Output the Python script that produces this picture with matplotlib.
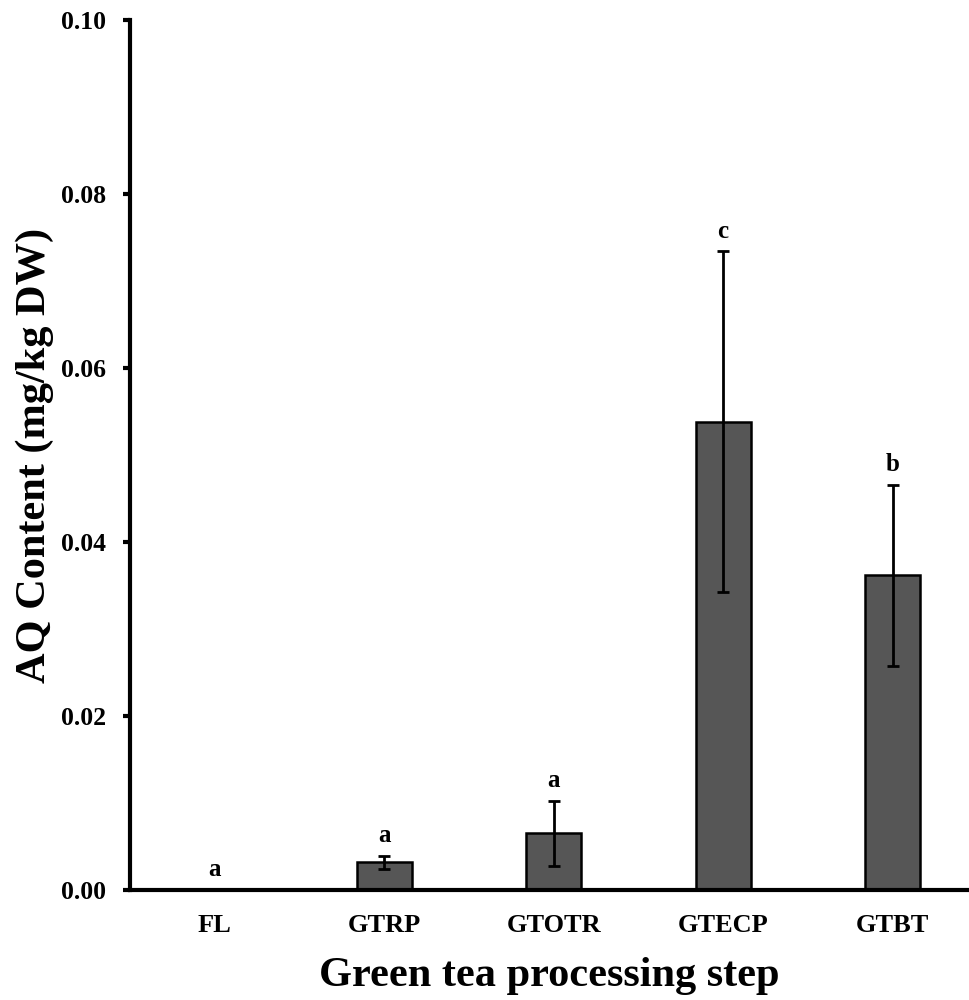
import numpy as np
import matplotlib
matplotlib.use('Agg')
import matplotlib.pyplot as plt

plt.rcParams.update({
    'font.family': 'serif',
    'font.serif': ['Liberation Serif', 'DejaVu Serif'],
    'font.weight': 'bold',
})

steps = ['FL', 'GTRP', 'GTOTR', 'GTECP', 'GTBT']
means = [0.0, 0.0032, 0.0065, 0.0538, 0.0362]
errors = [0.0, 0.00075, 0.0037, 0.0196, 0.0104]
letters = ['a', 'a', 'a', 'c', 'b']

fig = plt.figure(figsize=(9.69, 10), dpi=100)
ax = fig.add_axes([0.134, 0.11, 0.866, 0.87])

x = np.arange(len(steps))
ax.bar(x, means, width=0.325, color='#565656', edgecolor='black', linewidth=1.8,
       yerr=errors, error_kw=dict(ecolor='black', elinewidth=2, capsize=4.3, capthick=2),
       zorder=2)

# significance letters above the error bars
for xi, m, e, lab in zip(x, means, errors, letters):
    ax.text(xi, m + e + 0.0016, lab, ha='center', va='baseline', fontsize=18, fontweight='bold')

ax.set_xlim(-0.5, 4.45)
ax.set_ylim(0, 0.10)
ax.set_yticks(np.arange(0, 0.101, 0.02))
ax.set_yticklabels([f'{v:.2f}' for v in np.arange(0, 0.101, 0.02)])
ax.set_xticks(x)
ax.set_xticklabels(steps)

for side in ['top', 'right']:
    ax.spines[side].set_visible(False)
for side in ['left', 'bottom']:
    ax.spines[side].set_linewidth(3)

ax.tick_params(axis='y', direction='out', length=5, width=3, labelsize=18.5, pad=12)
ax.tick_params(axis='x', length=0, labelsize=19, pad=17)

ax.set_xlabel('Green tea processing step', fontsize=30.5, fontweight='bold', labelpad=15)
ax.set_ylabel('AQ Content (mg/kg DW)', fontsize=30.5, fontweight='bold', labelpad=5)

fig.savefig('out.png', dpi=100)
